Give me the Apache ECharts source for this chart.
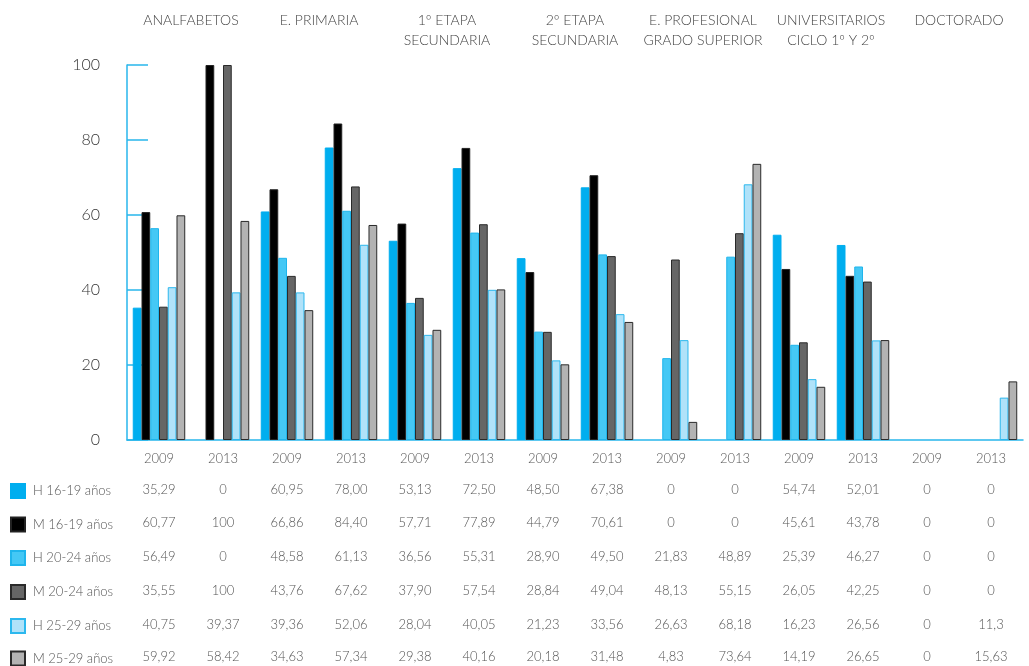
<!DOCTYPE html>
<html><head><meta charset="utf-8">
<script src="https://cdn.jsdelivr.net/npm/echarts@6/dist/echarts.min.js"></script>
<style>html,body{margin:0;padding:0;background:#fff}#c{width:1029px;height:666px}</style>
</head><body><div id="c"></div>
<script>
const years = ["2009","2013","2009","2013","2009","2013","2009","2013","2009","2013","2009","2013","2009","2013"];
const groups = ["ANALFABETOS","E. PRIMARIA","1º ETAPA\nSECUNDARIA","2º ETAPA\nSECUNDARIA","E. PROFESIONAL\nGRADO SUPERIOR","UNIVERSITARIOS\nCICLO 1º Y 2º","DOCTORADO"];
const seriesNames = ["H 16-19 años","M 16-19 años","H 20-24 años","M 20-24 años","H 25-29 años","M 25-29 años"];
const h1619 = ["35,29","0","60,95","78,00","53,13","72,50","48,50","67,38","0","0","54,74","52,01","0","0"];
const m1619 = ["60,77","100","66,86","84,40","57,71","77,89","44,79","70,61","0","0","45,61","43,78","0","0"];
const h2024 = ["56,49","0","48,58","61,13","36,56","55,31","28,90","49,50","21,83","48,89","25,39","46,27","0","0"];
const m2024 = ["35,55","100","43,76","67,62","37,90","57,54","28,84","49,04","48,13","55,15","26,05","42,25","0","0"];
const h2529 = ["40,75","39,37","39,36","52,06","28,04","40,05","21,23","33,56","26,63","68,18","16,23","26,56","0","11,3"];
const m2529 = ["59,92","58,42","34,63","57,34","29,38","40,16","20,18","31,48","4,83","73,64","14,19","26,65","0","15,63"];
const yTicks = [0,20,40,60,80,100];

const table = [h1619,m1619,h2024,m2024,h2529,m2529];
const toNum = s => { const v = parseFloat(s.replace(',', '.')); return v === 0 ? null : v; };
const styles = [
  {color:'#00AEEF', borderColor:'#00AEEF'},
  {color:'#000000', borderColor:'#222222'},
  {color:'#45C8F5', borderColor:'#1FB5EC'},
  {color:'#666666', borderColor:'#2a2a2a'},
  {color:'#B0E2F9', borderColor:'#2CB8EE'},
  {color:'#B3B3B3', borderColor:'#2a2a2a'}
];
const FONT = 'Lato';
const W = 300;
const TXT = '#555';
const rowY = [490, 523.5, 557, 591, 625, 657.5];
const yearY = 459;

const xAxes = [{
  type:'category', data: years, gridIndex:0, position:'bottom',
  axisLine:{show:true, lineStyle:{color:'#29B6EC', width:1.5}},
  axisTick:{show:false},
  axisLabel:{color:TXT, fontFamily:FONT, fontWeight:W, fontSize:13, margin:12, interval:0}
}];
rowY.forEach((y,i)=>{
  xAxes.push({
    type:'category', data: table[i], gridIndex:0, position:'bottom', offset: y - yearY,
    axisLine:{show:false}, axisTick:{show:false},
    axisLabel:{color:TXT, fontFamily:FONT, fontWeight:W, fontSize:13, margin:12, interval:0}
  });
});
xAxes.push({
  type:'category', data: groups, gridIndex:0, position:'top',
  axisLine:{show:false}, axisTick:{show:false},
  axisLabel:{color:'#444', fontFamily:FONT, fontWeight:W, fontSize:14, margin:55, interval:0, verticalAlign:'top', lineHeight:20}
});

const legends = seriesNames.map((n,i)=>({
  orient:'vertical', left:10, top: rowY[i] - 7, padding:0, itemWidth:14, itemHeight:14,
  icon:'rect', data:[n], itemGap:0,
  textStyle:{color:TXT, fontFamily:FONT, fontWeight:W, fontSize:13, padding:[0,0,0,3]}
}));

const chart = echarts.init(document.getElementById('c'));
chart.setOption({
  animation:false,
  textStyle:{fontFamily:FONT},
  grid:{left:127, right:6, top:65, bottom:226},
  legend: legends,
  xAxis: xAxes,
  yAxis:{
    type:'value', min:yTicks[0], max:yTicks[yTicks.length-1], interval:20,
    axisLine:{show:true, lineStyle:{color:'#29B6EC', width:1.5}},
    axisTick:{show:true, inside:true, length:21, lineStyle:{color:'#29B6EC', width:1.5}},
    splitLine:{show:false},
    axisLabel:{color:'#333', fontFamily:FONT, fontWeight:W, fontSize:16, margin:27}
  },
  series: seriesNames.map((n,i)=>({
    name:n, type:'bar', xAxisIndex:0, barGap:'0%', barCategoryGap:'18%',
    data: table[i].map(toNum),
    itemStyle:{color:styles[i].color, borderColor:styles[i].borderColor, borderWidth:1}
  }))
});
</script></body></html>
